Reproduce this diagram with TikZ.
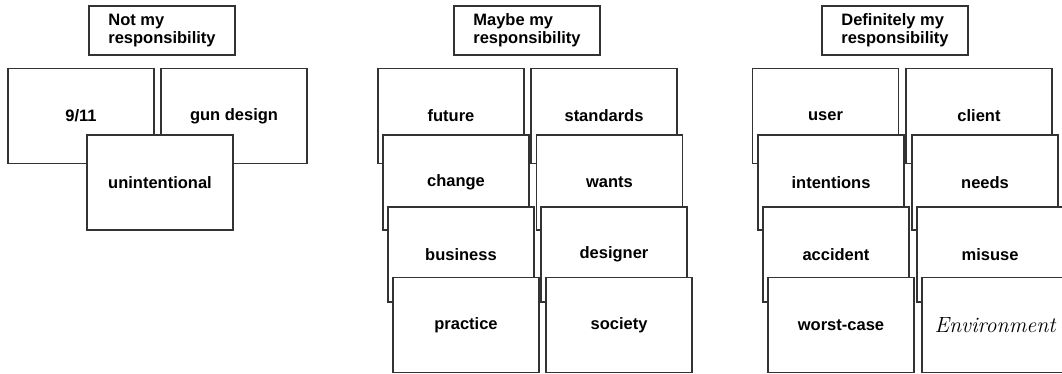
\documentclass[tikz,border=0pt]{standalone}
\usepackage{fontspec}
\newfontfamily\cardfont{Liberation Sans}
\tikzset{
    card/.style={draw=black!80, line width=1.2pt, fill=white, minimum width=146pt, minimum height=95pt, inner sep=0pt, font=\cardfont\bfseries\fontsize{16.5}{18}\selectfont},
    header/.style={card, minimum height=49pt, align=left},
    handwritten/.style={font=\fontsize{22}{26}\selectfont\itshape}
}
\begin{document}
\begin{tikzpicture}[x=1pt,y=-1pt]
                \useasboundingbox (0,0) rectangle (1062,374);
                \clip (0,0) rectangle (1062,374);
                % not my responsibility
                \node[header] (notHead) at (162,30.5) {Not my\\responsibility};
                \node[card] (nineEleven) at (81,116) {9/11};
                \node[card] (gunDesign) at (234,116) {gun design};
                \node[card] (unintentional) at (160,182.5) {unintentional};
                % maybe my responsibility
                \node[header] (maybeHead) at (527,30.5) {Maybe my\\responsibility};
                \node[card] (future) at (451,116) {future};
                \node[card] (standards) at (604,116) {standards};
                \node[card] (change) at (456,182.5) {change};
                \node[card] (wants) at (609.5,182.5) {wants};
                \node[card] (business) at (461,254.5) {business};
                \node[card] (designer) at (614,254.5) {designer};
                \node[card] (practice) at (466,325) {practice};
                \node[card] (society) at (619,325) {society};
                % definitely my responsibility
                \node[header] (defHead) at (895,30.5) {Definitely my\\responsibility};
                \node[card] (user) at (825.5,116) {user};
                \node[card] (client) at (979,116) {client};
                \node[card] (intentions) at (831,182.5) {intentions};
                \node[card] (needs) at (985,182.5) {needs};
                \node[card] (accident) at (836,254.5) {accident};
                \node[card] (misuse) at (990,254.5) {misuse};
                \node[card] (worstCase) at (841,325) {worst-case};
                \node[card, handwritten] (environment) at (995,325) {Environment};
            \end{tikzpicture}
\end{document}
